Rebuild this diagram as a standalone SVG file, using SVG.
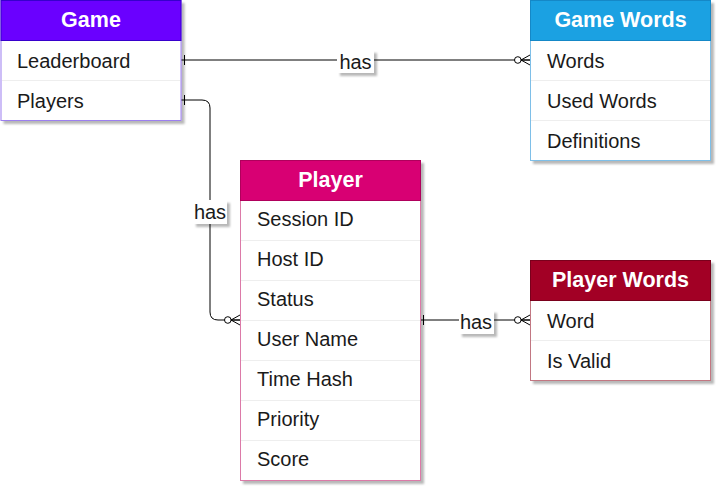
<svg xmlns="http://www.w3.org/2000/svg" width="725" height="497" viewBox="0 0 725 497">
<defs>
<filter id="sh" x="-10%" y="-10%" width="130%" height="130%">
<feDropShadow dx="3" dy="3" stdDeviation="1.2" flood-color="#000" flood-opacity="0.28"/>
</filter>
<marker id="one" markerWidth="12" markerHeight="14" refX="0" refY="7" orient="auto" markerUnits="userSpaceOnUse">
<path d="M3.5,2 L3.5,12" stroke="#000" stroke-width="1" fill="none"/>
</marker>
<marker id="zeroMany" markerWidth="16" markerHeight="14" refX="16" refY="7" orient="auto" markerUnits="userSpaceOnUse">
<circle cx="3.8" cy="7" r="3.3" fill="#fff" stroke="#000" stroke-width="1"/>
<path d="M7,7 L16,7 M7,7 L16,2 M7,7 L16,12" stroke="#000" stroke-width="1" fill="none"/>
</marker>
</defs>
<style>
.hdr{font-family:"Liberation Sans",Arial,sans-serif;font-size:21.5px;font-weight:bold;fill:#fff;text-anchor:middle}
.row{font-family:"Liberation Sans",Arial,sans-serif;font-size:20px;fill:#1a1a1a}
.sep{stroke:#eeeeee;stroke-width:1}
.body{fill:#fff;stroke-width:1}
.lbl{font-family:"Liberation Sans",Arial,sans-serif;font-size:20px;fill:#1a1a1a;text-anchor:middle}
.lblbg{fill:#fff}
.edge{fill:none;stroke:#000;stroke-width:1}
</style>

<g id="connectors">
<path class="edge" d="M181,60 L530,60" marker-start="url(#one)" marker-end="url(#zeroMany)"/>
<path class="edge" d="M181,100 L202,100 Q210,100 210,108 L210,312 Q210,320 218,320 L240,320" marker-start="url(#one)" marker-end="url(#zeroMany)"/>
<path class="edge" d="M420,320 L530,320" marker-start="url(#one)" marker-end="url(#zeroMany)"/>
<g filter="url(#sh)"><rect class="lblbg" x="337" y="50" width="37" height="23"/></g>
<text class="lbl" x="355.5" y="69">has</text>
<g filter="url(#sh)"><rect class="lblbg" x="193" y="200" width="34" height="24"/></g>
<text class="lbl" x="210" y="219">has</text>
<g filter="url(#sh)"><rect class="lblbg" x="459" y="310" width="35" height="24"/></g>
<text class="lbl" x="476" y="329">has</text>
</g>

<g id="game">
<g filter="url(#sh)">
<rect class="body" x="1" y="0.5" width="180" height="120" stroke="#9c7ff0"/>
</g>
<rect x="1" y="0.5" width="180" height="40" fill="#6a00ff" stroke="#3700cc"/>
<line class="sep" x1="2" y1="80.5" x2="180" y2="80.5"/>
<text class="hdr" x="91" y="26.5">Game</text>
<text class="row" x="17" y="67.5">Leaderboard</text>
<text class="row" x="17" y="107.5">Players</text>
</g>

<g id="gamewords">
<g filter="url(#sh)">
<rect class="body" x="530.5" y="0.5" width="180" height="160" stroke="#7ebfe8"/>
</g>
<rect x="530.5" y="0.5" width="180" height="40" fill="#1ba1e2" stroke="#1588c7"/>
<line class="sep" x1="531" y1="80.5" x2="710" y2="80.5"/>
<line class="sep" x1="531" y1="120.5" x2="710" y2="120.5"/>
<text class="hdr" x="620.5" y="26.5">Game Words</text>
<text class="row" x="547" y="67.5">Words</text>
<text class="row" x="547" y="107.5">Used Words</text>
<text class="row" x="547" y="147.5">Definitions</text>
</g>

<g id="player">
<g filter="url(#sh)">
<rect class="body" x="240.5" y="160.5" width="180" height="320" stroke="#dc7aa8"/>
</g>
<rect x="240.5" y="160.5" width="180" height="40" fill="#d80073" stroke="#b0005c"/>
<line class="sep" x1="241" y1="240.5" x2="420" y2="240.5"/>
<line class="sep" x1="241" y1="280.5" x2="420" y2="280.5"/>
<line class="sep" x1="241" y1="320.5" x2="420" y2="320.5"/>
<line class="sep" x1="241" y1="360.5" x2="420" y2="360.5"/>
<line class="sep" x1="241" y1="400.5" x2="420" y2="400.5"/>
<line class="sep" x1="241" y1="440.5" x2="420" y2="440.5"/>
<text class="hdr" x="330.5" y="186.5">Player</text>
<text class="row" x="257" y="226">Session ID</text>
<text class="row" x="257" y="266">Host ID</text>
<text class="row" x="257" y="306">Status</text>
<text class="row" x="257" y="346">User Name</text>
<text class="row" x="257" y="386">Time Hash</text>
<text class="row" x="257" y="426">Priority</text>
<text class="row" x="257" y="466">Score</text>
</g>

<g id="playerwords">
<g filter="url(#sh)">
<rect class="body" x="530.5" y="260.5" width="180" height="120" stroke="#c27782"/>
</g>
<rect x="530.5" y="260.5" width="180" height="40" fill="#a20025" stroke="#7a001c"/>
<line class="sep" x1="531" y1="340.5" x2="710" y2="340.5"/>
<text class="hdr" x="620.5" y="286.5">Player Words</text>
<text class="row" x="547" y="327.5">Word</text>
<text class="row" x="547" y="367.5">Is Valid</text>
</g>
</svg>
